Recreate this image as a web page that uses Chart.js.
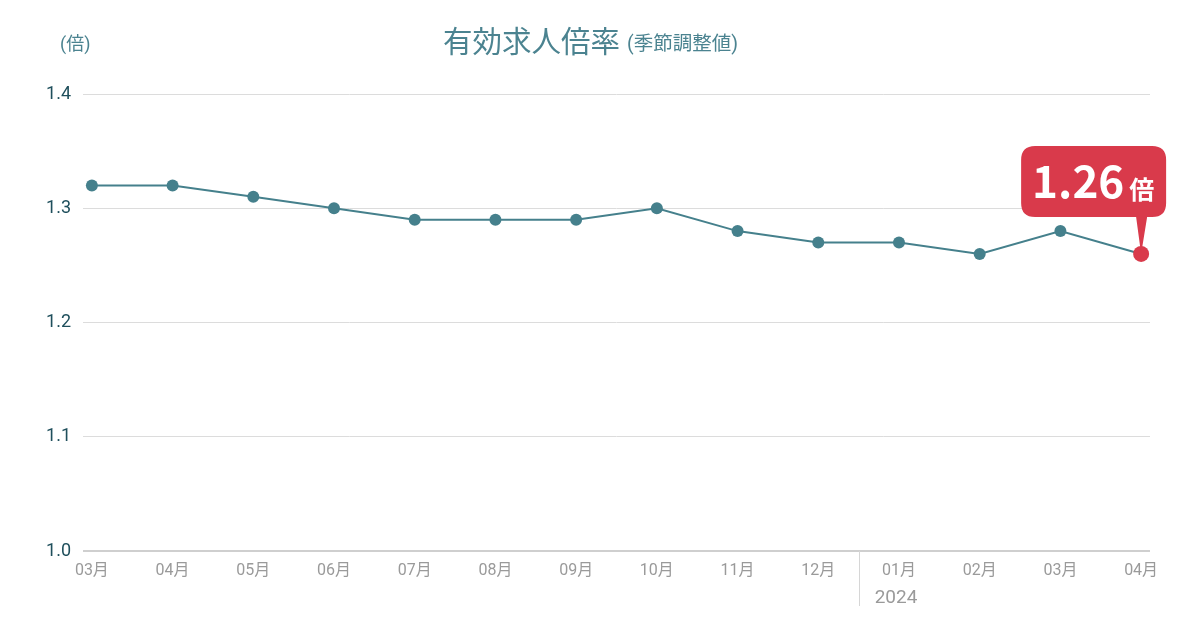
<!DOCTYPE html>
<html>
<head>
<meta charset="utf-8">
<script src="https://cdn.jsdelivr.net/npm/chart.js@4.4.1/dist/chart.umd.min.js"></script>
<style>
  html, body { margin: 0; padding: 0; background: #fff; }
  #wrap { position: relative; width: 1200px; height: 630px; }
  #title { position: absolute; left: 443px; top: 18px;
    font-family: "Roboto", "Noto Sans CJK JP", sans-serif; color: #4b8390; white-space: nowrap; }
  #title .main { font-size: 29.5px; }
  #title .sub { font-size: 19.5px; margin-left: 7px; position: relative; top: -2px; }
  #unit { position: absolute; left: 60px; top: 29px; font-size: 18px; color: #4b8390;
    font-family: "Roboto", "Noto Sans CJK JP", sans-serif; }
  canvas { position: absolute; left: 0; top: 0; }
</style>
</head>
<body>
<div id="wrap">
  <canvas id="c" width="1200" height="630"></canvas>
  <div id="title"><span class="main">有効求人倍率</span><span class="sub">(季節調整値)</span></div>
  <div id="unit">(倍)</div>
</div>
<script>
// months shown on the x axis, year marker under january
var months = ['03月', '04月', '05月', '06月', '07月', '08月', '09月', '10月', '11月', '12月', '01月', '02月', '03月', '04月'];
var yearLabel = '2024';
var yearStart = 10;
var ratio = [1.32, 1.32, 1.31, 1.30, 1.29, 1.29, 1.29, 1.30, 1.28, 1.27, 1.27, 1.26, 1.28, 1.26];
var yTicks = [1.0, 1.1, 1.2, 1.3, 1.4];
var unitLabel = '倍';

var teal = '#45808c';
var red = '#d93a4b';
var last = ratio.length - 1;

// separator between december and january plus the year, drawn in the tick area
var yearSeparator = {
    id: 'yearSeparator',
    afterDraw: function (chart) {
        var ctx = chart.ctx;
        var sx = chart.scales.x;
        var x = sx.getPixelForValue(yearStart - 0.5);
        var b = chart.chartArea.bottom;
        ctx.save();
        ctx.strokeStyle = '#d6d6d6';
        ctx.lineWidth = 1;
        ctx.beginPath();
        ctx.moveTo(Math.round(x) + 0.5, b);
        ctx.lineTo(Math.round(x) + 0.5, b + 55);
        ctx.stroke();
        ctx.fillStyle = '#9a9a9a';
        ctx.font = '19px Roboto, sans-serif';
        ctx.textAlign = 'center';
        ctx.textBaseline = 'middle';
        ctx.fillText(yearLabel, sx.getPixelForValue(yearStart) - 3, b + 47);
        ctx.restore();
    }
};

// red balloon with the latest value
var latestBalloon = {
    id: 'latestBalloon',
    afterDatasetsDraw: function (chart) {
        var ctx = chart.ctx;
        var pt = chart.getDatasetMeta(0).data[last];
        var px = pt.x, py = pt.y;
        var left = px - 120, right = px + 25, top = py - 108, bottom = py - 37, r = 14;
        ctx.save();
        ctx.fillStyle = red;
        ctx.beginPath();
        ctx.moveTo(left + r, top);
        ctx.lineTo(right - r, top);
        ctx.quadraticCurveTo(right, top, right, top + r);
        ctx.lineTo(right, bottom - r);
        ctx.quadraticCurveTo(right, bottom, right - r, bottom);
        ctx.lineTo(px + 6, bottom);
        ctx.lineTo(px, py);
        ctx.lineTo(px - 5, bottom);
        ctx.lineTo(left + r, bottom);
        ctx.quadraticCurveTo(left, bottom, left, bottom - r);
        ctx.lineTo(left, top + r);
        ctx.quadraticCurveTo(left, top, left + r, top);
        ctx.closePath();
        ctx.fill();
        ctx.fillStyle = '#fff';
        ctx.textBaseline = 'alphabetic';
        ctx.font = 'bold 44px "Noto Sans CJK JP", "Noto Sans", sans-serif';
        ctx.textAlign = 'left';
        var txt = ratio[last].toFixed(2);
        ctx.fillText(txt, left + 11, top + 52);
        var w = ctx.measureText(txt).width;
        ctx.font = 'bold 25px "Noto Sans CJK JP", "Noto Sans", sans-serif';
        ctx.fillText(unitLabel, left + 11 + w + 5, top + 53);
        ctx.restore();
    }
};

new Chart(document.getElementById('c'), {
    type: 'line',
    data: {
        datasets: [{
            data: ratio.map(function (v, i) { return { x: i, y: v }; }),
            borderColor: teal,
            borderWidth: 2,
            backgroundColor: teal,
            pointBackgroundColor: ratio.map(function (v, i) { return i === last ? red : teal; }),
            pointBorderColor: ratio.map(function (v, i) { return i === last ? red : teal; }),
            pointRadius: ratio.map(function (v, i) { return i === last ? 8 : 6; }),
            pointBorderWidth: 0,
            tension: 0
        }]
    },
    options: {
        responsive: false,
        animation: false,
        events: [],
        layout: { padding: { top: 94, right: 50, left: 0, bottom: 0 } },
        plugins: { legend: { display: false }, tooltip: { enabled: false } },
        scales: {
            x: {
                type: 'linear',
                min: -0.11,
                max: last + 0.11,
                afterBuildTicks: function (scale) {
                    scale.ticks = months.map(function (m, i) { return { value: i }; });
                },
                afterFit: function (scale) { scale.height = 79; },
                grid: { display: false, drawTicks: false },
                border: { display: false },
                ticks: {
                    autoSkip: false,
                    maxRotation: 0,
                    padding: 10,
                    color: '#9a9a9a',
                    font: { family: 'Roboto, "Noto Sans CJK JP", sans-serif', size: 16 },
                    callback: function (v) { return months[v]; }
                }
            },
            y: {
                min: 1.0,
                max: 1.4,
                afterBuildTicks: function (scale) {
                    scale.ticks = yTicks.map(function (v) { return { value: v }; });
                },
                afterFit: function (scale) { scale.width = 83; },
                grid: {
                    color: function (c) { return c.tick && c.tick.value === 1.0 ? '#cfcfcf' : '#dcdcdc'; },
                    lineWidth: function (c) { return c.tick && c.tick.value === 1.0 ? 2 : 1; },
                    drawTicks: false
                },
                border: { display: false },
                ticks: {
                    padding: 12,
                    color: '#1f4f5c',
                    font: { family: 'Roboto, sans-serif', size: 18 },
                    callback: function (v) { return v.toFixed(1); }
                }
            }
        }
    },
    plugins: [yearSeparator, latestBalloon]
});
</script>
</body>
</html>
